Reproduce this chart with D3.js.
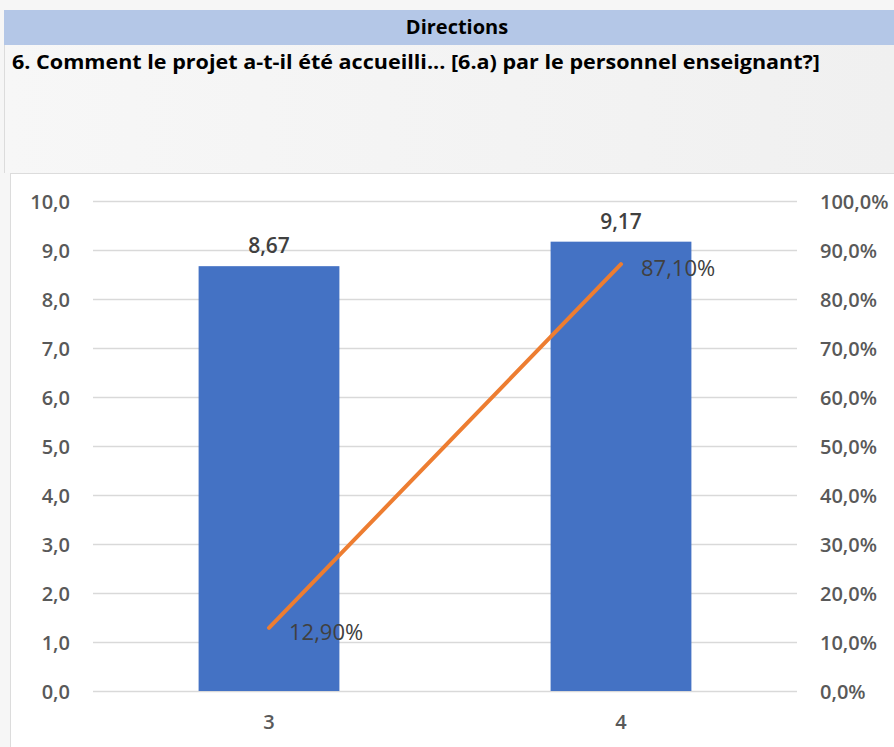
<!DOCTYPE html>
<html lang="fr">
<head>
  <meta charset="UTF-8" />
  <title>Directions</title>
  <script src="https://cdn.jsdelivr.net/npm/d3@7"></script>
  <style>
    body { margin: 0; background: #fff; }
    text { font-family: "Open Sans", sans-serif; }
    .tick text { font-size: 20px; font-weight: 600; fill: #595959; }
    .lbl { font-size: 21px; fill: #404040; }
  </style>
</head>
<body>
  <div id="chart"></div>
  <script>
    var categories = ["3", "4"];
    var barValues = [8.67, 9.17];
    var lineValues = [0.129, 0.871];
    var barLabels = ["8,67", "9,17"];
    var lineLabels = ["12,90%", "87,10%"];
    var leftTicks = [0, 1, 2, 3, 4, 5, 6, 7, 8, 9, 10];
    var rightTicks = [0, 0.1, 0.2, 0.3, 0.4, 0.5, 0.6, 0.7, 0.8, 0.9, 1];

    var w = 894, h = 747;
    var svg = d3.select("#chart").append("svg")
      .attr("width", w)
      .attr("height", h);

    var defs = svg.append("defs");
    var grad = defs.append("linearGradient").attr("id", "bg")
      .attr("x1", "0").attr("y1", "0").attr("x2", "1").attr("y2", "0");
    grad.append("stop").attr("offset", "0").attr("stop-color", "#f7f7f7");
    grad.append("stop").attr("offset", "1").attr("stop-color", "#f0f0f0");

    // page background and frame
    svg.append("rect").attr("x", 0).attr("y", 0).attr("width", w).attr("height", h).attr("fill", "#f6f6f6");
    svg.append("rect").attr("x", 4).attr("y", 45).attr("width", w - 4).attr("height", 128).attr("fill", "url(#bg)");
    svg.append("rect").attr("x", 10).attr("y", 174).attr("width", w - 10).attr("height", h - 174).attr("fill", "#fff");
    svg.append("line").attr("x1", 10).attr("x2", w).attr("y1", 173.5).attr("y2", 173.5).attr("stroke", "#dcdcdc");
    svg.append("line").attr("x1", 10.5).attr("x2", 10.5).attr("y1", 173).attr("y2", h).attr("stroke", "#dcdcdc");
    svg.append("line").attr("x1", 4.5).attr("x2", 4.5).attr("y1", 10).attr("y2", 173).attr("stroke", "#dcdcdc");

    // header
    svg.append("rect").attr("x", 4).attr("y", 10).attr("width", w - 4).attr("height", 35).attr("fill", "#b4c7e7");
    svg.append("text").attr("x", 457).attr("y", 34)
      .attr("text-anchor", "middle")
      .style("font-family", "'Liberation Sans Narrow', 'Open Sans', sans-serif")
      .style("font-size", "20px").style("font-weight", "bold").style("fill", "#000")
      .text("Directions");
    svg.append("text").attr("x", 12).attr("y", 69)
      .attr("textLength", 808).attr("lengthAdjust", "spacingAndGlyphs")
      .style("font-family", "'Liberation Sans Narrow', 'Open Sans', sans-serif")
      .style("font-size", "20px").style("font-weight", "bold").style("fill", "#000")
      .text("6. Comment le projet a-t-il été accueilli... [6.a) par le personnel enseignant?]");

    // chart
    var plotL = 93, plotR = 797, plotT = 201, plotB = 691;

    var x = d3.scaleBand().domain(categories).range([plotL, plotR]).padding(0);
    var y = d3.scaleLinear().domain([0, 10]).range([plotB, plotT]);
    var y2 = d3.scaleLinear().domain([0, 1]).range([plotB, plotT]);
    var barW = x.bandwidth() * 0.4;

    svg.append("g").selectAll("line")
      .data(leftTicks)
      .enter()
      .append("line")
      .attr("x1", plotL).attr("x2", plotR)
      .attr("y1", function(d) { return Math.round(y(d)) + 0.5; })
      .attr("y2", function(d) { return Math.round(y(d)) + 0.5; })
      .attr("stroke", "#d9d9d9")
      .attr("stroke-width", 1.5);

    var fmt = d3.formatLocale({ decimal: ",", thousands: " ", grouping: [3], currency: ["", "€"] });

    svg.append("g")
      .attr("transform", "translate(" + plotL + ",0)")
      .call(d3.axisLeft(y).tickValues(leftTicks).tickSize(0).tickPadding(23).tickFormat(fmt.format(".1f")))
      .call(function(g) { g.select(".domain").remove(); })
      .selectAll("text").attr("dy", "0.35em");

    svg.append("g")
      .attr("transform", "translate(" + plotR + ",0)")
      .call(d3.axisRight(y2).tickValues(rightTicks).tickSize(0).tickPadding(23).tickFormat(fmt.format(".1%")))
      .call(function(g) { g.select(".domain").remove(); })
      .selectAll("text").attr("dy", "0.35em");

    svg.append("g")
      .attr("transform", "translate(0," + plotB + ")")
      .call(d3.axisBottom(x).tickSize(0).tickPadding(24))
      .call(function(g) { g.select(".domain").remove(); });

    svg.append("g").selectAll("rect")
      .data(barValues)
      .enter()
      .append("rect")
      .attr("x", function(d, i) { return x(categories[i]) + x.bandwidth() / 2 - barW / 2; })
      .attr("y", function(d) { return y(d); })
      .attr("width", barW)
      .attr("height", function(d) { return plotB - y(d); })
      .attr("fill", "#4472c4");

    svg.append("g").selectAll("text")
      .data(barValues)
      .enter()
      .append("text")
      .attr("class", "lbl")
      .attr("x", function(d, i) { return x(categories[i]) + x.bandwidth() / 2; })
      .attr("y", function(d) { return y(d) - 13; })
      .attr("text-anchor", "middle")
      .style("font-weight", 600)
      .text(function(d, i) { return barLabels[i]; });

    var line = d3.line()
      .x(function(d, i) { return x(categories[i]) + x.bandwidth() / 2; })
      .y(function(d) { return y2(d); });

    svg.append("path")
      .datum(lineValues)
      .attr("d", line)
      .attr("fill", "none")
      .attr("stroke", "#ed7d31")
      .attr("stroke-width", 4)
      .attr("stroke-linecap", "round");

    svg.append("g").selectAll("text")
      .data(lineValues)
      .enter()
      .append("text")
      .attr("class", "lbl")
      .attr("x", function(d, i) { return x(categories[i]) + x.bandwidth() / 2 + 20; })
      .attr("y", function(d) { return y2(d) + 12; })
      .style("font-size", "22px")
      .text(function(d, i) { return lineLabels[i]; });
  </script>
</body>
</html>
